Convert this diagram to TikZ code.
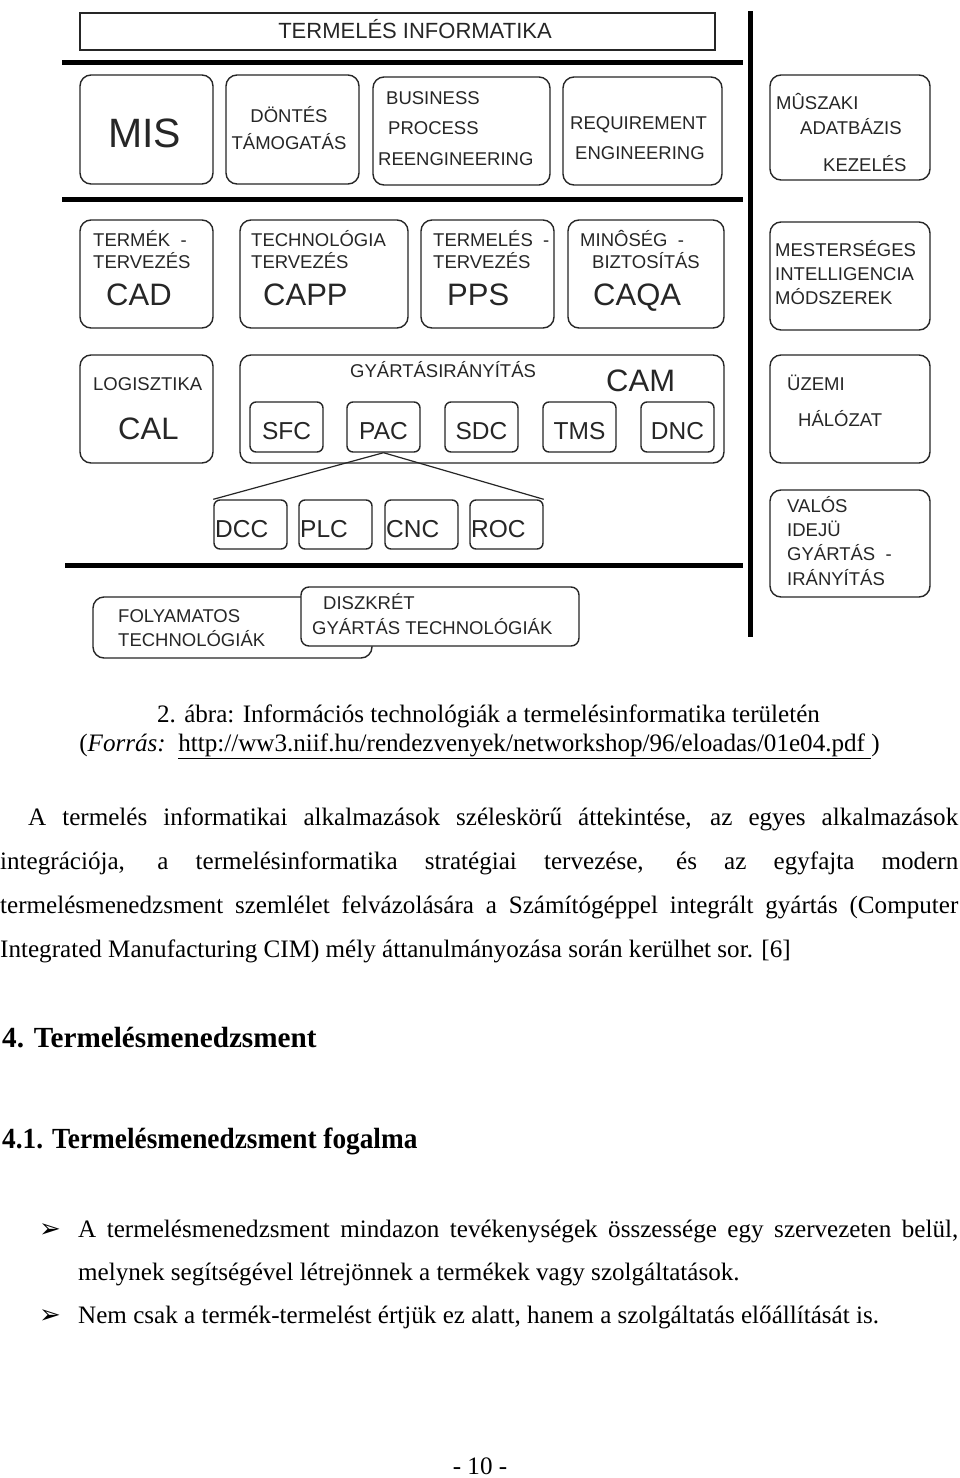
\documentclass[tikz,border=0pt]{standalone}
\usepackage{fontspec}
\setmainfont{Liberation Serif}
\newfontfamily\dgfont{Liberation Sans}
\newfontfamily\bulfont{DejaVu Sans}
\newfontfamily\headcond[FakeStretch=0.935]{Liberation Serif}
\usetikzlibrary{positioning}
\tikzset{
  blk/.style={draw=black!85, line width=1.4pt, rounded corners=11pt, fill=white, inner sep=0pt},
  sblk/.style={blk, rounded corners=6pt},
  rulebar/.style={line width=5pt, black},
  dg/.style={font=\dgfont\fontsize{18.5}{20}\selectfont, inner sep=0pt, anchor=base west, text=black!85},
  dgbig/.style={dg, font=\dgfont\fontsize{31}{33}\selectfont},
  dgsml/.style={dg, font=\dgfont\fontsize{24.5}{26}\selectfont},
  body/.style={font=\fontsize{25.1}{30}\selectfont, inner sep=0pt, anchor=base west},
  capt/.style={body, anchor=base},
  head/.style={body, font=\fontsize{29.2}{34}\selectfont\bfseries},
  bul/.style={body, font=\bulfont\fontsize{26}{28}\selectfont},
}
\newcommand{\DgBox}[6][blk]{%
  \node[#1, minimum width={#5-#3}, minimum height={#6-#4}] (#2) at ({(#3+#5)/2},{(#4+#6)/2}) {};%
}
\newcommand{\JLine}[1]{\makebox[\linew][s]{#1}}
\newlength{\linew}

\begin{document}
\begin{tikzpicture}[x=1pt, y=-1pt]
  \fill[white] (0,0) rectangle (960,1478);
  \useasboundingbox (0,0) rectangle (960,1478);

  % frame lines
  \draw[rulebar] (62,62) -- (743,62);
  \draw[rulebar] (62,199) -- (743,199);
  \draw[rulebar] (65,565) -- (743,565);
  \draw[rulebar] (750,11) -- (750,637);

  % title
  \DgBox[blk, rounded corners=0pt]{ttl}{80}{13}{715}{50}
  \node[dg, anchor=base, font=\dgfont\fontsize{22}{24}\selectfont] (ttlT) at (415,38) {TERMELÉS INFORMATIKA};

  % row 1
  \DgBox{mis}{80}{75}{213}{184}
  \node[dg, anchor=base, font=\dgfont\fontsize{41}{43}\selectfont] (misT) at (144.5,147) {MIS};
  \DgBox{dont}{226}{75}{359}{184}
  \node[dg, anchor=base] (dontA) at (289,122) {DÖNTÉS};
  \node[dg, anchor=base] (dontB) at (289,149) {TÁMOGATÁS};
  \DgBox{bpr}{373}{77}{550}{185}
  \node[dg] (bprA) at (386,104) {BUSINESS};
  \node[dg] (bprB) at (388,134.5) {PROCESS};
  \node[dg] (bprC) at (378,165.5) {REENGINEERING};
  \DgBox{req}{563}{77}{722}{185}
  \node[dg] (reqA) at (570,129.5) {REQUIREMENT};
  \node[dg] (reqB) at (575,159.5) {ENGINEERING};

  % row 2
  \DgBox{cad}{80}{220}{213}{328}
  \node[dg] (cadA) at (93,246) {TERMÉK \ -};
  \node[dg] (cadB) at (93,268.5) {TERVEZÉS};
  \node[dgbig] (cadC) at (106,305) {CAD};
  \DgBox{capp}{240}{220}{408}{328}
  \node[dg] (cappA) at (251,246) {TECHNOLÓGIA};
  \node[dg] (cappB) at (251,268.5) {TERVEZÉS};
  \node[dgbig] (cappC) at (263,305) {CAPP};
  \DgBox{pps}{421}{220}{554}{328}
  \node[dg] (ppsA) at (433,246) {TERMELÉS \ -};
  \node[dg] (ppsB) at (433,268.5) {TERVEZÉS};
  \node[dgbig] (ppsC) at (447,305) {PPS};
  \DgBox{caqa}{568}{220}{724}{328}
  \node[dg] (caqaA) at (580,246) {MINÔSÉG \ -};
  \node[dg] (caqaB) at (592,268.5) {BIZTOSÍTÁS};
  \node[dgbig] (caqaC) at (593,305) {CAQA};

  % row 3
  \DgBox{cal}{80}{355}{213}{463}
  \node[dg] (calA) at (93,390.5) {LOGISZTIKA};
  \node[dgbig] (calB) at (118,439) {CAL};
  \DgBox{cam}{240}{355}{724}{463}
  \node[dg] (camA) at (350,377.5) {GYÁRTÁSIRÁNYÍTÁS};
  \node[dgbig] (camB) at (606,391) {CAM};
  \foreach \t/\x [count=\i] in {SFC/250,PAC/347,SDC/445,TMS/543,DNC/641} {
    \node[sblk, minimum width=73, minimum height=50] (cam\i) at (\x+36.5,427) {};
    \node[dgsml, anchor=base] (cam\i t) at (\x+36.5,439) {\t};
  }

  % row 4
  \foreach \t/\x [count=\i] in {DCC/214,PLC/299,CNC/385,ROC/470} {
    \node[sblk, minimum width=73, minimum height=49] (low\i) at (\x+36.5,524.5) {};
    \node[dgsml] (low\i t) at (\x+1,537) {\t};
  }
  \draw[line width=1.2pt, black!85] (cam2.south) -- (low1.north west);
  \draw[line width=1.2pt, black!85] (cam2.south) -- (low4.north east);

  % bottom
  \DgBox{foly}{93}{597}{372}{658}
  \node[dg] (folyA) at (118,622.5) {FOLYAMATOS};
  \node[dg] (folyB) at (118,646.5) {TECHNOLÓGIÁK};
  \DgBox[blk, rounded corners=8pt]{disz}{301}{587}{579}{646}
  \node[dg] (diszA) at (323,609.5) {DISZKRÉT};
  \node[dg] (diszB) at (312,634.5) {GYÁRTÁS TECHNOLÓGIÁK};

  % right column
  \DgBox{musz}{770}{75}{930}{180}
  \node[dg] (muszA) at (776,109.5) {MÛSZAKI};
  \node[dg] (muszB) at (800,134.5) {ADATBÁZIS};
  \node[dg] (muszC) at (823,171.5) {KEZELÉS};
  \DgBox{mest}{770}{222}{930}{330}
  \node[dg] (mestA) at (775,256.5) {MESTERSÉGES};
  \node[dg] (mestB) at (775,280.5) {INTELLIGENCIA};
  \node[dg] (mestC) at (775,304.5) {MÓDSZEREK};
  \DgBox{uzem}{770}{355}{930}{463}
  \node[dg] (uzemA) at (787,390.5) {ÜZEMI};
  \node[dg] (uzemB) at (798,426.5) {HÁLÓZAT};
  \DgBox{valo}{770}{490}{930}{597}
  \node[dg] (valoA) at (787,512.5) {VALÓS};
  \node[dg] (valoB) at (787,536.5) {IDEJÜ};
  \node[dg] (valoC) at (787,560.5) {GYÁRTÁS \ -};
  \node[dg] (valoD) at (787,585.5) {IRÁNYÍTÁS};

  % caption
  \node[capt] (cap1) at (488.5,722) {2. ábra: Információs technológiák a termelésinformatika területén};
  \node[capt] (cap2) at (479.5,751) {(\textit{Forrás:}\ \ \underline{http://ww3.niif.hu/rendezvenyek/networkshop/96/eloadas/01e04.pdf\ })};

  % paragraph
  \setlength{\linew}{930pt}
  \node[body] (par1) at (28,825) {\JLine{A termelés informatikai alkalmazások széleskörű áttekintése, az egyes alkalmazások}};
  \setlength{\linew}{958pt}
  \node[body] (par2) at (0,869) {\JLine{integrációja, a termelésinformatika stratégiai tervezése, és az egyfajta modern}};
  \node[body] (par3) at (0,913) {\JLine{termelésmenedzsment szemlélet felvázolására a Számítógéppel integrált gyártás (Computer}};
  \node[body] (par4) at (0,957) {Integrated Manufacturing CIM) mély áttanulmányozása során kerülhet sor. [6]};

  % headings
  \node[head] (sec) at (2,1047) {4. Termelésmenedzsment};
  \node[head, font=\headcond\fontsize{29.2}{34}\selectfont\bfseries] (subsec) at (2,1148) {4.1. Termelésmenedzsment fogalma};

  % bullets
  \node[bul] (bul1) at (39,1237) {➢};
  \setlength{\linew}{880pt}
  \node[body] (it1a) at (78,1237) {\JLine{A termelésmenedzsment mindazon tevékenységek összessége egy szervezeten belül,}};
  \node[body] (it1b) at (78,1280) {melynek segítségével létrejönnek a termékek vagy szolgáltatások.};
  \node[bul] (bul2) at (39,1323) {➢};
  \node[body] (it2) at (78,1323) {Nem csak a termék-termelést értjük ez alatt, hanem a szolgáltatás előállítását is.};

  % page number
  \node[body, anchor=base] (pgno) at (480,1474) {- 10 -};
\end{tikzpicture}
\end{document}
